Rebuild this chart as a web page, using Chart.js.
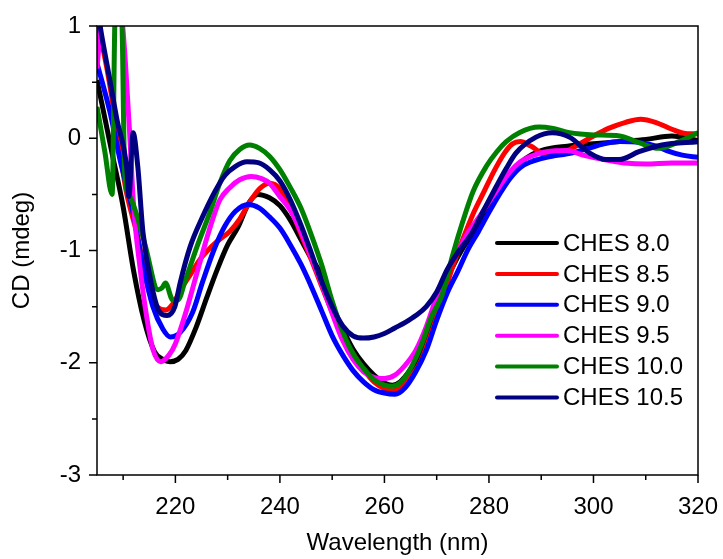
<!DOCTYPE html>
<html>
<head>
<meta charset="utf-8">
<script src="https://cdn.jsdelivr.net/npm/chart.js@4.4.1/dist/chart.umd.min.js"></script>
<style>
  body { margin: 0; background: #fff; }
  #wrap { width: 723px; height: 559px; }
</style>
</head>
<body>
<div id="wrap"><canvas id="cdChart" width="723" height="559"></canvas></div>
<script>
// dữ liệu (nm, mdeg)
const seriesLabels = ['CHES 8.0', 'CHES 8.5', 'CHES 9.0', 'CHES 9.5', 'CHES 10.0', 'CHES 10.5'];
const seriesColors = ['#000000', '#ff0000', '#0000ff', '#ff00ff', '#008000', '#000080'];

const ches80_nm = [205, 206.5, 208, 210, 212, 214, 216, 217.6, 219, 220.5, 222, 224, 226, 228, 230, 232, 234, 235.8, 238, 240, 242, 244, 246, 248, 250, 252, 254, 256, 258, 260, 261.5, 263, 265, 267, 269, 271, 273, 275, 277, 279, 281, 283, 285, 287, 290, 295, 300, 305, 310, 315, 320];
const ches80_cd = [0.52, 0.18, -0.16, -0.61, -1.18, -1.62, -1.90, -1.97, -1.99, -1.97, -1.89, -1.68, -1.42, -1.17, -0.95, -0.79, -0.58, -0.50, -0.53, -0.60, -0.73, -0.90, -1.07, -1.22, -1.50, -1.70, -1.88, -2.01, -2.11, -2.18, -2.20, -2.17, -2.06, -1.91, -1.66, -1.36, -1.15, -0.98, -0.84, -0.69, -0.54, -0.39, -0.27, -0.18, -0.11, -0.07, -0.05, -0.03, -0.01, 0.02, -0.02];

const ches85_nm = [205, 206.9, 208.8, 210.5, 211.5, 212.6, 214.5, 216.5, 218.2, 219.6, 221, 222.8, 224.7, 226.6, 228.5, 230.4, 232.3, 234.2, 236.1, 238, 240, 242, 244, 246, 248, 250, 252, 254, 256, 258, 260, 261.5, 263, 265, 267, 269, 271, 273, 275, 277, 279, 281, 283, 284.5, 286, 288, 291, 294, 297, 300, 303, 306, 309, 312, 315, 318, 320];
const ches85_cd = [1.05, 0.62, 0.08, -0.45, -0.65, -0.84, -1.26, -1.50, -1.53, -1.47, -1.35, -1.22, -1.08, -0.98, -0.90, -0.83, -0.72, -0.57, -0.45, -0.40, -0.45, -0.62, -0.85, -1.08, -1.32, -1.55, -1.76, -1.92, -2.06, -2.17, -2.23, -2.25, -2.23, -2.13, -1.98, -1.73, -1.45, -1.15, -0.90, -0.67, -0.48, -0.29, -0.13, -0.05, -0.03, -0.07, -0.15, -0.13, -0.06, 0.02, 0.09, 0.14, 0.17, 0.14, 0.08, 0.04, 0.04];

const ches90_nm = [205, 207.5, 209.4, 211.9, 213.8, 215.7, 217.6, 219, 220.9, 223.3, 225.2, 227.5, 229.5, 231.5, 234, 236, 238, 240, 242, 244, 246, 248, 250, 252, 254, 256, 258, 260, 262, 264, 266, 268, 270, 272, 274, 276, 278, 280, 282, 284, 286, 288, 291, 296, 299, 302, 305, 309, 312, 314, 317, 320];
const ches90_cd = [0.67, 0.23, -0.19, -0.66, -1.14, -1.50, -1.70, -1.77, -1.73, -1.55, -1.28, -0.98, -0.78, -0.65, -0.59, -0.62, -0.70, -0.80, -0.95, -1.12, -1.32, -1.54, -1.76, -1.93, -2.07, -2.17, -2.24, -2.27, -2.28, -2.22, -2.08, -1.89, -1.62, -1.38, -1.19, -0.99, -0.83, -0.66, -0.50, -0.36, -0.26, -0.21, -0.17, -0.13, -0.09, -0.05, -0.03, -0.04, -0.07, -0.11, -0.15, -0.17];

const ches95_nm = [205, 205.8, 207, 208.5, 209.8, 210.4, 211.3, 212, 213.2, 214.5, 215.7, 217.2, 218.8, 220, 222, 224.3, 226.6, 228.5, 230.4, 232.3, 234.5, 236.5, 238, 240, 242, 244, 246, 248, 250, 252, 254, 256, 258, 260, 262, 264, 266, 268, 270, 272, 274, 276, 278, 280, 282, 284, 286, 288, 291, 295, 298, 302, 306, 310, 315, 320];
const ches95_cd = [0.62, 1.05, 1.35, 1.35, 1.05, 0.70, 0.00, -0.60, -1.14, -1.59, -1.88, -1.99, -1.93, -1.83, -1.55, -1.17, -0.80, -0.55, -0.44, -0.37, -0.34, -0.36, -0.40, -0.52, -0.64, -0.83, -1.06, -1.30, -1.56, -1.80, -1.97, -2.08, -2.13, -2.14, -2.11, -2.02, -1.89, -1.68, -1.41, -1.18, -1.01, -0.84, -0.71, -0.57, -0.43, -0.30, -0.21, -0.16, -0.12, -0.11, -0.15, -0.19, -0.22, -0.23, -0.22, -0.22];

const ches100_nm = [205, 206.5, 207.9, 208.4, 209.1, 209.8, 210.3, 211.3, 212.3, 214.2, 216.7, 217.5, 218.1, 219.5, 220.5, 221.8, 224.1, 226.6, 228.5, 230.4, 232.3, 234.2, 236.1, 238, 240, 242, 244, 246, 248, 250, 252, 254, 256, 258, 260, 261.5, 263, 265, 267, 269, 271, 273, 275, 277, 279.5, 281.5, 283.3, 285.8, 289.6, 292, 295.4, 300, 305, 308.7, 312.5, 316.4, 320];
const ches100_cd = [0.28, -0.12, -0.50, 1.00, 1.60, 1.00, -0.31, -0.52, -0.64, -0.95, -1.35, -1.33, -1.29, -1.44, -1.44, -1.28, -0.97, -0.66, -0.40, -0.20, -0.10, -0.06, -0.09, -0.16, -0.28, -0.44, -0.62, -0.86, -1.13, -1.45, -1.72, -1.92, -2.05, -2.15, -2.20, -2.21, -2.18, -2.05, -1.85, -1.59, -1.40, -1.05, -0.74, -0.47, -0.25, -0.12, -0.03, 0.05, 0.10, 0.09, 0.05, 0.03, 0.02, -0.04, -0.09, -0.03, 0.05];

const ches105_nm = [205, 205.6, 207.3, 208.8, 210.7, 211.1, 211.9, 212.8, 213.8, 215.5, 217, 218.4, 219.9, 220.9, 222.8, 225.2, 227.5, 229.5, 231.5, 233.7, 236, 238, 240, 242, 244, 246, 248, 250, 252, 254, 256, 258, 260, 262, 264, 266, 268, 270, 272, 274, 276.8, 279, 281.4, 283.3, 285.2, 289, 292.1, 295.4, 299.2, 302.4, 304.9, 308.7, 313.1, 320];
const ches105_cd = [1.20, 1.00, 0.56, 0.17, -0.27, -0.52, 0.05, -0.25, -0.84, -1.32, -1.55, -1.58, -1.50, -1.29, -0.97, -0.70, -0.48, -0.33, -0.25, -0.21, -0.22, -0.28, -0.38, -0.55, -0.77, -1.02, -1.28, -1.50, -1.67, -1.76, -1.78, -1.77, -1.74, -1.69, -1.64, -1.58, -1.50, -1.37, -1.17, -1.02, -0.84, -0.64, -0.43, -0.27, -0.13, 0.01, 0.05, 0.01, -0.13, -0.19, -0.19, -0.12, -0.06, -0.03];

const xMajorTicks = [220, 240, 260, 280, 300, 320];
const xMinorTicks = [210, 230, 250, 270, 290, 310];
const yMajorTicks = [-3, -2, -1, 0, 1];
const yMinorTicks = [-2.5, -1.5, -0.5, 0.5];

const allNm = [ches80_nm, ches85_nm, ches90_nm, ches95_nm, ches100_nm, ches105_nm];
const allCd = [ches80_cd, ches85_cd, ches90_cd, ches95_cd, ches100_cd, ches105_cd];

const FONT = "'Liberation Sans', Arial, sans-serif";

//ghép dữ liệu cho Chart.js
const datasets = seriesLabels.map((label, i) => ({
  label: label,
  data: allNm[i].map((x, k) => ({ x: x, y: allCd[i][k] })),
  borderColor: seriesColors[i],
  backgroundColor: seriesColors[i],
  borderWidth: 5,
  pointRadius: 0,
  cubicInterpolationMode: 'monotone',
  fill: false,
  order: seriesLabels.length - i
}));

//vẽ khung, vạch chia và chú thích
const framePlugin = {
  id: 'frame',
  afterDraw(chart) {
    const ctx = chart.ctx;
    const a = chart.chartArea;
    const xs = chart.scales.x;
    const ys = chart.scales.y;
    ctx.save();
    ctx.strokeStyle = '#000';
    ctx.lineWidth = 1.5;
    ctx.strokeRect(a.left, a.top, a.right - a.left, a.bottom - a.top);

    ctx.beginPath();
    xMajorTicks.forEach(v => {
      const p = xs.getPixelForValue(v);
      ctx.moveTo(p, a.bottom); ctx.lineTo(p, a.bottom + 8);
    });
    xMinorTicks.forEach(v => {
      const p = xs.getPixelForValue(v);
      ctx.moveTo(p, a.bottom); ctx.lineTo(p, a.bottom + 5);
    });
    yMajorTicks.forEach(v => {
      const p = ys.getPixelForValue(v);
      ctx.moveTo(a.left, p); ctx.lineTo(a.left - 8, p);
    });
    yMinorTicks.forEach(v => {
      const p = ys.getPixelForValue(v);
      ctx.moveTo(a.left, p); ctx.lineTo(a.left - 5, p);
    });
    ctx.stroke();

    // chú thích
    const lx = a.left + 400;
    let ly = a.top + 217;
    ctx.font = '24px ' + FONT;
    ctx.textBaseline = 'middle';
    ctx.lineCap = 'round';
    seriesLabels.forEach((label, i) => {
      ctx.strokeStyle = seriesColors[i];
      ctx.lineWidth = 4;
      ctx.beginPath();
      ctx.moveTo(lx, ly);
      ctx.lineTo(lx + 60, ly);
      ctx.stroke();
      ctx.fillStyle = '#000';
      ctx.fillText(label, lx + 66, ly + 1);
      ly += 30.9;
    });
    ctx.restore();
  }
};

new Chart(document.getElementById('cdChart'), {
  type: 'line',
  data: { datasets: datasets },
  plugins: [framePlugin],
  options: {
    responsive: false,
    animation: false,
    layout: { padding: { top: 26, right: 25, left: 0, bottom: 0 } },
    plugins: {
      legend: { display: false },
      tooltip: { enabled: false }
    },
    scales: {
      x: {
        type: 'linear',
        min: 205,
        max: 320,
        afterBuildTicks: s => { s.ticks = xMajorTicks.map(v => ({ value: v })); },
        afterFit: s => { s.height = 84; s.paddingLeft = 0; s.paddingRight = 0; },
        grid: { display: false, drawTicks: false },
        border: { display: false },
        ticks: {
          color: '#000',
          font: { family: FONT, size: 24 },
          padding: 18,
          maxRotation: 0,
          callback: v => String(v)
        },
        title: {
          display: true,
          text: 'Wavelength (nm)',
          color: '#000',
          font: { family: FONT, size: 24 },
          padding: { top: 0, bottom: 1 }
        }
      },
      y: {
        type: 'linear',
        min: -3,
        max: 1,
        afterBuildTicks: s => { s.ticks = yMajorTicks.map(v => ({ value: v })); },
        afterFit: s => { s.width = 97; s.paddingTop = 0; s.paddingBottom = 0; },
        grid: { display: false, drawTicks: false },
        border: { display: false },
        ticks: {
          color: '#000',
          font: { family: FONT, size: 24 },
          padding: 16,
          callback: v => String(v)
        },
        title: {
          display: true,
          text: 'CD (mdeg)',
          color: '#000',
          font: { family: FONT, size: 24 },
          padding: { top: 8, bottom: 0 }
        }
      }
    }
  }
});
</script>
</body>
</html>
